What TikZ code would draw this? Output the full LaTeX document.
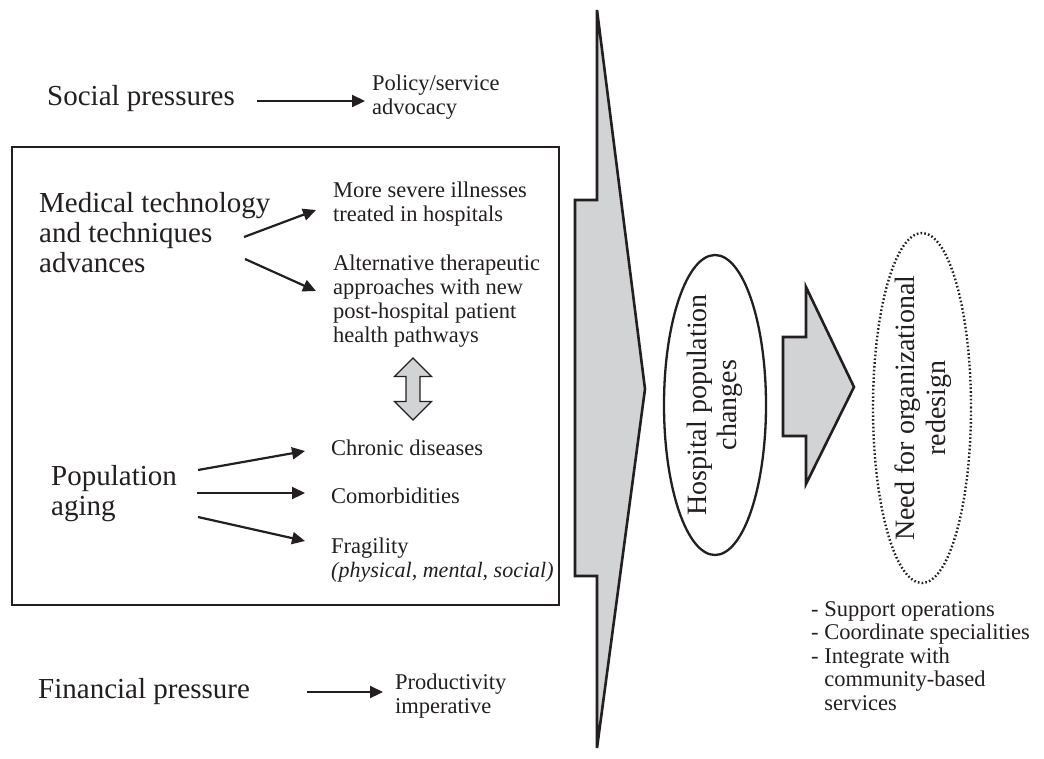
\documentclass[tikz,border=0pt]{standalone}
\usepackage{fontspec}
\setmainfont{Liberation Serif}
\usetikzlibrary{arrows.meta,shapes.geometric}
\definecolor{ink}{RGB}{35,31,32}
\definecolor{shade}{RGB}{209,211,212}
\begin{document}
\begin{tikzpicture}[x=1pt,y=-1pt,
  bigtxt/.style={font=\fontsize{29}{30}\selectfont, text=ink, inner sep=0pt, anchor=base west, align=left},
  smalltxt/.style={font=\fontsize{22.5}{24}\selectfont, text=ink, inner sep=0pt, anchor=base west, align=left},
  ovalshape/.style={ellipse, draw=ink, inner sep=0pt},
  rottxt/.style={rotate=90, inner sep=0pt, align=center, font=\fontsize{28}{30.5}\selectfont, text=ink},
  arr/.style={draw=ink, line width=2.2pt, -{Triangle[length=13pt,width=12pt]}},
  shapeline/.style={draw=ink, fill=shade, line width=2.6pt, line join=miter},
  ]
\fill[white] (0,0) rectangle (1044,758);
\useasboundingbox (0,0) rectangle (1044,758);

% frame
\draw[draw=ink, line width=2.4pt] (12,147) rectangle (559,605);

% top row (base anchor = last line)
\node[bigtxt] (social) at (47,105) {Social pressures};
\node[smalltxt] (policy) at (372,114) {Policy/service\\advocacy};
\coordinate (s1) at (257,101);
\coordinate (s2) at (365,101);
\draw[arr] (s1) -- (s2);

% medical
\node[bigtxt] (med) at (39,272) {Medical technology\\and techniques\\advances};
\node[smalltxt] (severe) at (333,221) {More severe illnesses\\treated in hospitals};
\node[smalltxt] (alt) at (333,342) {Alternative therapeutic\\approaches with new\\post-hospital patient\\health pathways};
\coordinate (m1s) at (244,237);
\coordinate (m1e) at (316,210);
\coordinate (m2s) at (245,259);
\coordinate (m2e) at (316,291);
\draw[arr] (m1s) -- (m1e);
\draw[arr] (m2s) -- (m2e);

% double arrow
\draw[draw=ink, fill=shade, line width=1.3pt]
  (413,358) -- (431.5,376.5) -- (420,376.5) -- (420,401.5) -- (431.5,401.5) -- (413,420)
  -- (394.5,401.5) -- (406,401.5) -- (406,376.5) -- (394.5,376.5) -- cycle;

% population
\node[bigtxt] (pop) at (51,515) {Population\\aging};
\node[smalltxt] (chronic) at (331,455) {Chronic diseases};
\node[smalltxt] (comorb) at (331,503) {Comorbidities};
\node[smalltxt] (frag) at (331,577) {Fragility\\{\fontsize{22}{24}\selectfont\textit{(physical, mental, social)}}};
\coordinate (p1s) at (198,470);
\coordinate (p1e) at (305,451);
\coordinate (p2s) at (197,493);
\coordinate (p2e) at (305,493);
\coordinate (p3s) at (198,517);
\coordinate (p3e) at (305,541);
\draw[arr] (p1s) -- (p1e);
\draw[arr] (p2s) -- (p2e);
\draw[arr] (p3s) -- (p3e);

% financial
\node[bigtxt] (fin) at (38,698) {Financial pressure};
\node[smalltxt] (prod) at (395,713) {Productivity\\imperative};
\coordinate (f1) at (307,692);
\coordinate (f2) at (383,692);
\draw[arr] (f1) -- (f2);

% big arrow
\draw[shapeline] (597,10) -- (645,389) -- (597,748) -- (597,576) -- (575,576) -- (575,200) -- (597,200) -- cycle;

% ellipses
\node[ovalshape, line width=2.3pt, minimum width=102pt, minimum height=300pt] (hosp) at (715,405) {};
\node[rottxt] (hosptxt) at (hosp.center) {Hospital population\\changes};

\draw[shapeline] (806,287) -- (854,387) -- (806,484) -- (806,436) -- (783,436) -- (783,337) -- (806,337) -- cycle;

\node[ovalshape, line width=2.4pt, dash pattern=on 1.6pt off 2.2pt, minimum width=98pt, minimum height=350pt] (need) at (922,408) {};
\node[rottxt] (needtxt) at ([xshift=1pt]need.center) {Need for organizational\\redesign};

% list
\node[font=\fontsize{22.5}{23.5}\selectfont, text=ink, inner sep=0pt, anchor=base west, align=left] (list) at (811,710)
  {- Support operations\\- Coordinate specialities\\- Integrate with\\\phantom{- }community-based\\\phantom{- }services};
\end{tikzpicture}
\end{document}
